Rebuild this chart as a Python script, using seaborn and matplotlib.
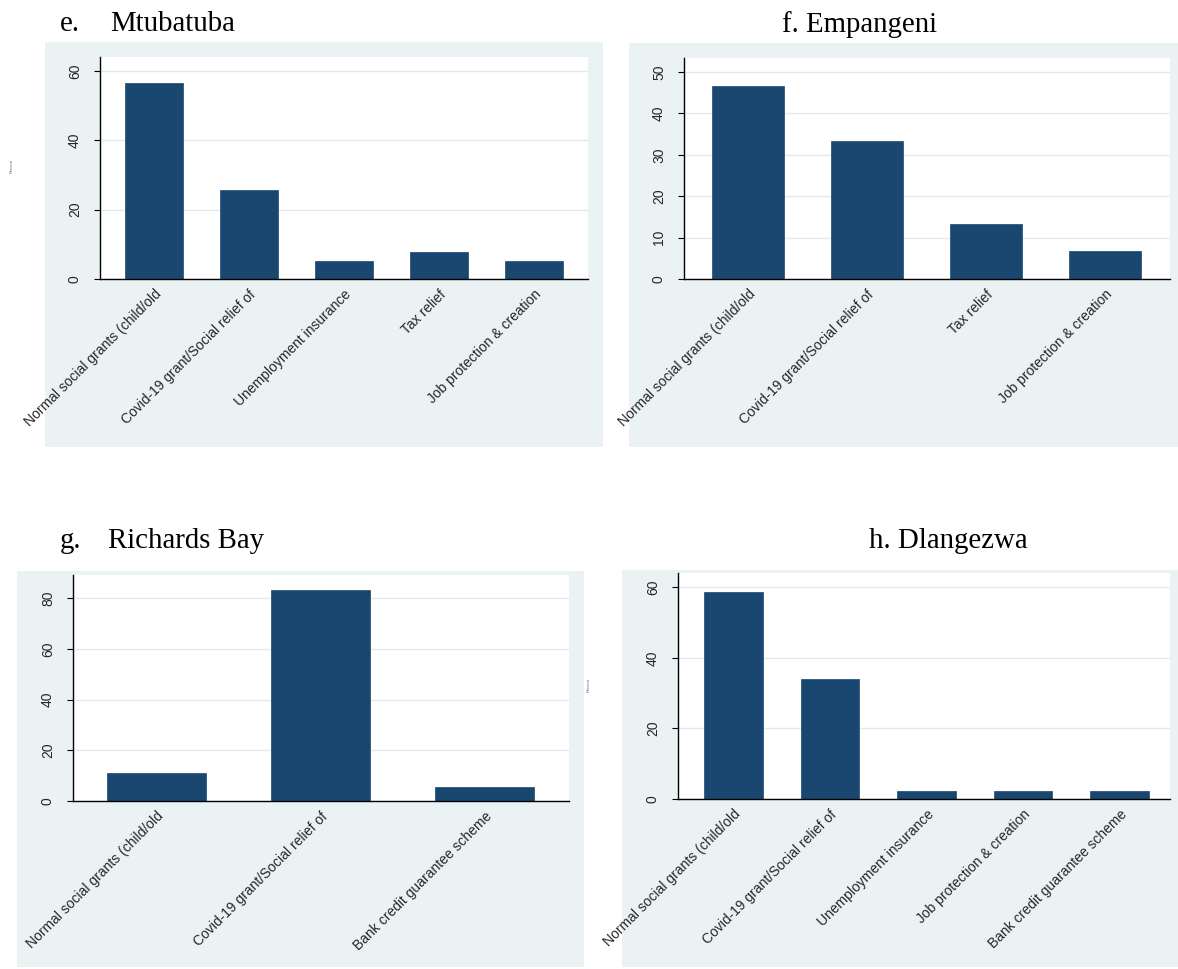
import matplotlib
matplotlib.use("Agg")
import matplotlib.pyplot as plt
import pandas as pd
import seaborn as sns
from matplotlib.patches import Rectangle

W, H = 1178, 969
BG = "#EAF2F3"
NAVY = "#1A476F"
GRID = "#E2EAED"

# data (percent of respondents per town)
cats_mtubatuba = ["Normal social grants (child/old", "Covid-19 grant/Social relief of",
                  "Unemployment insurance", "Tax relief", "Job protection & creation"]
pct_mtubatuba = [56.4, 25.6, 5.1, 7.7, 5.1]

cats_empangeni = ["Normal social grants (child/old", "Covid-19 grant/Social relief of",
                  "Tax relief", "Job protection & creation"]
pct_empangeni = [46.7, 33.3, 13.3, 6.7]

cats_richards = ["Normal social grants (child/old", "Covid-19 grant/Social relief of",
                 "Bank credit guarantee scheme"]
pct_richards = [11.1, 83.3, 5.6]

cats_dlangezwa = ["Normal social grants (child/old", "Covid-19 grant/Social relief of",
                  "Unemployment insurance", "Job protection & creation",
                  "Bank credit guarantee scheme"]
pct_dlangezwa = [58.5, 34.1, 2.4, 2.4, 2.4]

sns.set_theme(style="white")
plt.rcParams["font.family"] = ["Liberation Sans", "DejaVu Sans"]

fig = plt.figure(figsize=(W / 100, H / 100), dpi=100)
fig.patch.set_facecolor("white")


def fig_xy(x, y):
    return x / W, 1 - y / H


def draw_panel(cats, vals, bg, box, xlim, ytop, yticks, width):
    # light graph region behind the plot
    fig.patches.append(Rectangle(fig_xy(bg[0], bg[3]), (bg[2] - bg[0]) / W,
                                 (bg[3] - bg[1]) / H, transform=fig.transFigure,
                                 facecolor=BG, edgecolor="none", zorder=-1))
    x0, y0, x1, y1 = box
    ax = fig.add_axes([x0 / W, 1 - y1 / H, (x1 - x0) / W, (y1 - y0) / H])
    ax.set_facecolor("white")
    df = pd.DataFrame({"cat": cats, "pct": vals})
    sns.barplot(data=df, x="cat", y="pct", color=NAVY, saturation=1, width=width,
                edgecolor=NAVY, linewidth=0.5, ax=ax)
    ax.set_xlim(*xlim)
    ax.set_ylim(0, ytop)
    ax.set_yticks(yticks)
    ax.set_xlabel("")
    ax.set_ylabel("")
    ax.set_xticks(range(len(cats)))
    ax.set_xticklabels(cats, rotation=45, ha="right", rotation_mode="anchor", fontsize=10)
    ax.tick_params(axis="x", length=0, pad=6)
    ax.tick_params(axis="y", length=4, width=0.8, pad=9, labelsize=10, labelrotation=90,
                   color="black", left=True)
    for lab in ax.get_yticklabels():
        lab.set_va("center")
    ax.yaxis.grid(True, color=GRID, lw=1)
    ax.set_axisbelow(True)
    for s in ["top", "right"]:
        ax.spines[s].set_visible(False)
    for s in ["left", "bottom"]:
        ax.spines[s].set_color("black")
        ax.spines[s].set_linewidth(1)
    return ax


draw_panel(cats_mtubatuba, pct_mtubatuba, (45, 42, 603, 447), (100, 57, 588, 279),
           (-0.568, 4.568), 64.0, [0, 20, 40, 60], 0.61)
draw_panel(cats_empangeni, pct_empangeni, (629, 43, 1178, 447), (684, 58, 1170, 279),
           (-0.538, 3.546), 53.4, [0, 10, 20, 30, 40, 50], 0.605)
draw_panel(cats_richards, pct_richards, (17, 571, 584, 967), (73, 575, 569, 801),
           (-0.509, 2.515), 89.2, [0, 20, 40, 60, 80], 0.604)
draw_panel(cats_dlangezwa, pct_dlangezwa, (622, 570, 1178, 967), (678, 573, 1170, 799),
           (-0.575, 4.523), 64.0, [0, 20, 40, 60], 0.61)

# panel titles
title_kw = dict(family=["Liberation Serif", "DejaVu Serif"], fontsize=20.8,
                ha="left", va="baseline", color="black")
fig.text(*fig_xy(60, 31), "e.", **title_kw)
fig.text(*fig_xy(110, 31), "Mtubatuba", **title_kw)
fig.text(*fig_xy(782, 32), "f. Empangeni", **title_kw)
fig.text(*fig_xy(60, 548), "g.", **title_kw)
fig.text(*fig_xy(108, 548), "Richards Bay", **title_kw)
fig.text(*fig_xy(869, 548), "h. Dlangezwa", **title_kw)

# clipped axis titles visible only as tiny slivers
fig.text(*fig_xy(12, 166), "Percent", rotation=90, fontsize=3, color="#666666",
         ha="center", va="center")
fig.text(*fig_xy(589, 685), "Percent", rotation=90, fontsize=3, color="#666666",
         ha="center", va="center")

fig.savefig("out.png", dpi=100)
